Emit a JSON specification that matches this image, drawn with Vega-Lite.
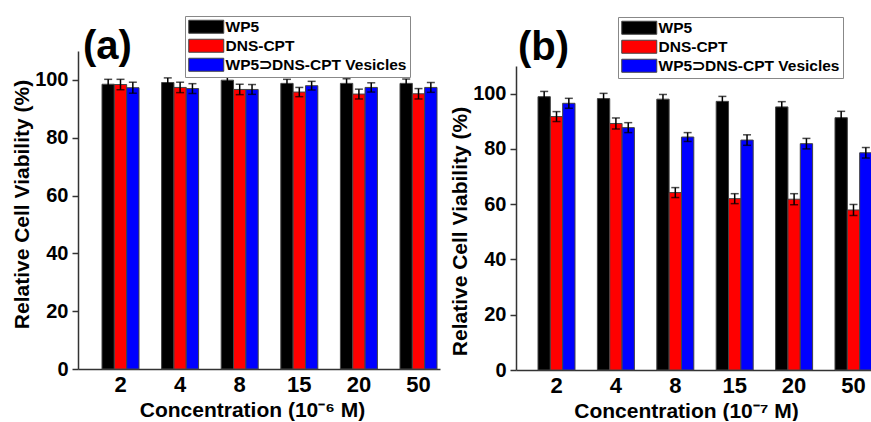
{
  "$schema": "https://vega.github.io/schema/vega-lite/v6.json",
  "padding": {"left": 11, "top": 15, "right": 0, "bottom": 0},
  "spacing": 9,
  "datasets": {
    "cells": [
      {"panel": "a", "conc": "2", "series": "WP5", "value": 98.5, "lo": 96.8, "hi": 100.2},
      {"panel": "a", "conc": "2", "series": "DNS-CPT", "value": 98.4, "lo": 96.6, "hi": 100.2},
      {"panel": "a", "conc": "2", "series": "WP5⊃DNS-CPT Vesicles", "value": 97.3, "lo": 95.4, "hi": 99.2},
      {"panel": "a", "conc": "4", "series": "WP5", "value": 99.1, "lo": 97.5, "hi": 100.7},
      {"panel": "a", "conc": "4", "series": "DNS-CPT", "value": 97.4, "lo": 95.6, "hi": 99.2},
      {"panel": "a", "conc": "4", "series": "WP5⊃DNS-CPT Vesicles", "value": 97.0, "lo": 95.3, "hi": 98.7},
      {"panel": "a", "conc": "8", "series": "WP5", "value": 99.9, "lo": 98.2, "hi": 101.6},
      {"panel": "a", "conc": "8", "series": "DNS-CPT", "value": 96.7, "lo": 94.9, "hi": 98.5},
      {"panel": "a", "conc": "8", "series": "WP5⊃DNS-CPT Vesicles", "value": 96.7, "lo": 95.0, "hi": 98.4},
      {"panel": "a", "conc": "15", "series": "WP5", "value": 98.8, "lo": 97.4, "hi": 100.2},
      {"panel": "a", "conc": "15", "series": "DNS-CPT", "value": 95.8, "lo": 94.2, "hi": 97.4},
      {"panel": "a", "conc": "15", "series": "WP5⊃DNS-CPT Vesicles", "value": 98.0, "lo": 96.5, "hi": 99.5},
      {"panel": "a", "conc": "20", "series": "WP5", "value": 98.8, "lo": 97.2, "hi": 100.4},
      {"panel": "a", "conc": "20", "series": "DNS-CPT", "value": 95.1, "lo": 93.4, "hi": 96.8},
      {"panel": "a", "conc": "20", "series": "WP5⊃DNS-CPT Vesicles", "value": 97.4, "lo": 95.8, "hi": 99.0},
      {"panel": "a", "conc": "50", "series": "WP5", "value": 98.8, "lo": 97.3, "hi": 100.3},
      {"panel": "a", "conc": "50", "series": "DNS-CPT", "value": 95.2, "lo": 93.4, "hi": 97.0},
      {"panel": "a", "conc": "50", "series": "WP5⊃DNS-CPT Vesicles", "value": 97.4, "lo": 95.7, "hi": 99.1},
      {"panel": "b", "conc": "2", "series": "WP5", "value": 98.9, "lo": 97.0, "hi": 100.8},
      {"panel": "b", "conc": "2", "series": "DNS-CPT", "value": 91.7, "lo": 89.9, "hi": 93.5},
      {"panel": "b", "conc": "2", "series": "WP5⊃DNS-CPT Vesicles", "value": 96.5, "lo": 94.7, "hi": 98.3},
      {"panel": "b", "conc": "4", "series": "WP5", "value": 98.2, "lo": 96.3, "hi": 100.1},
      {"panel": "b", "conc": "4", "series": "DNS-CPT", "value": 89.2, "lo": 87.2, "hi": 91.2},
      {"panel": "b", "conc": "4", "series": "WP5⊃DNS-CPT Vesicles", "value": 87.7, "lo": 85.9, "hi": 89.5},
      {"panel": "b", "conc": "8", "series": "WP5", "value": 98.0, "lo": 96.3, "hi": 99.7},
      {"panel": "b", "conc": "8", "series": "DNS-CPT", "value": 64.2, "lo": 62.4, "hi": 66.0},
      {"panel": "b", "conc": "8", "series": "WP5⊃DNS-CPT Vesicles", "value": 84.3, "lo": 82.7, "hi": 85.9},
      {"panel": "b", "conc": "15", "series": "WP5", "value": 97.2, "lo": 95.4, "hi": 99.0},
      {"panel": "b", "conc": "15", "series": "DNS-CPT", "value": 62.0, "lo": 60.2, "hi": 63.8},
      {"panel": "b", "conc": "15", "series": "WP5⊃DNS-CPT Vesicles", "value": 83.2, "lo": 81.3, "hi": 85.1},
      {"panel": "b", "conc": "20", "series": "WP5", "value": 95.2, "lo": 93.3, "hi": 97.1},
      {"panel": "b", "conc": "20", "series": "DNS-CPT", "value": 61.8, "lo": 59.8, "hi": 63.8},
      {"panel": "b", "conc": "20", "series": "WP5⊃DNS-CPT Vesicles", "value": 81.9, "lo": 80.0, "hi": 83.8},
      {"panel": "b", "conc": "50", "series": "WP5", "value": 91.3, "lo": 89.0, "hi": 93.6},
      {"panel": "b", "conc": "50", "series": "DNS-CPT", "value": 57.9, "lo": 55.9, "hi": 59.9},
      {"panel": "b", "conc": "50", "series": "WP5⊃DNS-CPT Vesicles", "value": 78.6, "lo": 76.7, "hi": 80.5}
    ]
  },
  "hconcat": [
    {
      "width": 362,
      "height": 318,
      "title": {"text": "(a)", "dx": 5, "dy": 6},
      "data": {"name": "cells"},
      "transform": [{"filter": "datum.panel === 'a'"}],
      "encoding": {
        "x": {
          "field": "conc", "type": "nominal",
          "sort": ["2", "4", "8", "15", "20", "50"],
          "scale": {"paddingInner": 0.3792, "paddingOuter": 0.2265, "align": 0.889},
          "axis": {"title": "Concentration (10⁻⁶ M)", "labelAngle": 0, "ticks": false, "tickSize": 0, "labelFontSize": 22, "labelPadding": 5, "titlePadding": 4, "titleX": 174}
        },
        "xOffset": {"field": "series", "sort": ["WP5", "DNS-CPT", "WP5⊃DNS-CPT Vesicles"], "scale": {"paddingInner": 0, "paddingOuter": 0}}
      },
      "layer": [
        {
          "mark": {"type": "bar", "stroke": "#444", "strokeWidth": 1},
          "encoding": {
            "y": {
              "field": "value", "type": "quantitative",
              "scale": {"domain": [0, 110], "nice": false},
              "axis": {
                "title": "Relative Cell Viability (%)",
                "values": [0, 10, 20, 30, 40, 50, 60, 70, 80, 90, 100, 110],
                "labelExpr": "datum.value % 20 === 0 && datum.value < 110 ? datum.label : ''",
                "tickSize": {"condition": {"test": "datum.value % 20 === 0", "value": 6}, "value": 3},
                "labelFontSize": 20, "labelPadding": 4, "titlePadding": 2, "titleY": 153
              }
            },
            "fill": {
              "field": "series", "type": "nominal",
              "sort": ["WP5", "DNS-CPT", "WP5⊃DNS-CPT Vesicles"],
              "scale": {"domain": ["WP5", "DNS-CPT", "WP5⊃DNS-CPT Vesicles"], "range": ["#000000", "#ff0000", "#0000ff"]},
              "legend": {"orient": "none", "legendX": 107, "legendY": -35}
            }
          }
        },
        {
          "mark": {"type": "rule", "color": "#000", "strokeWidth": 1.5},
          "encoding": {"y": {"field": "lo", "type": "quantitative"}, "y2": {"field": "hi"}}
        },
        {
          "mark": {"type": "tick", "color": "#000", "thickness": 1.5, "size": 8},
          "encoding": {"y": {"field": "lo", "type": "quantitative"}}
        },
        {
          "mark": {"type": "tick", "color": "#000", "thickness": 1.5, "size": 8},
          "encoding": {"y": {"field": "hi", "type": "quantitative"}}
        }
      ]
    },
    {
      "width": 356,
      "height": 319,
      "title": {"text": "(b)", "dx": 2, "dy": 6},
      "data": {"name": "cells"},
      "transform": [{"filter": "datum.panel === 'b'"}],
      "encoding": {
        "x": {
          "field": "conc", "type": "nominal",
          "sort": ["2", "4", "8", "15", "20", "50"],
          "scale": {"paddingInner": 0.3771, "paddingOuter": 0.1852, "align": 1},
          "axis": {"title": "Concentration (10⁻⁷ M)", "labelAngle": 0, "ticks": false, "tickSize": 0, "labelFontSize": 22, "labelPadding": 5, "titlePadding": 4, "titleX": 170}
        },
        "xOffset": {"field": "series", "sort": ["WP5", "DNS-CPT", "WP5⊃DNS-CPT Vesicles"], "scale": {"paddingInner": 0, "paddingOuter": 0}}
      },
      "layer": [
        {
          "mark": {"type": "bar", "stroke": "#444", "strokeWidth": 1},
          "encoding": {
            "y": {
              "field": "value", "type": "quantitative",
              "scale": {"domain": [0, 110], "nice": false, "range": [319, 15]},
              "axis": {
                "title": "Relative Cell Viability (%)",
                "values": [0, 10, 20, 30, 40, 50, 60, 70, 80, 90, 100, 110],
                "labelExpr": "datum.value % 20 === 0 && datum.value < 110 ? datum.label : ''",
                "tickSize": {"condition": {"test": "datum.value % 20 === 0", "value": 6}, "value": 3},
                "labelFontSize": 20, "labelPadding": 4, "titlePadding": 2, "titleY": 180
              }
            },
            "fill": {
              "field": "series", "type": "nominal",
              "sort": ["WP5", "DNS-CPT", "WP5⊃DNS-CPT Vesicles"],
              "scale": {"domain": ["WP5", "DNS-CPT", "WP5⊃DNS-CPT Vesicles"], "range": ["#000000", "#ff0000", "#0000ff"]},
              "legend": {"orient": "none", "legendX": 102, "legendY": -34}
            }
          }
        },
        {
          "mark": {"type": "rule", "color": "#000", "strokeWidth": 1.5},
          "encoding": {"y": {"field": "lo", "type": "quantitative"}, "y2": {"field": "hi"}}
        },
        {
          "mark": {"type": "tick", "color": "#000", "thickness": 1.5, "size": 8},
          "encoding": {"y": {"field": "lo", "type": "quantitative"}}
        },
        {
          "mark": {"type": "tick", "color": "#000", "thickness": 1.5, "size": 8},
          "encoding": {"y": {"field": "hi", "type": "quantitative"}}
        }
      ]
    }
  ],
  "resolve": {
    "scale": {"x": "independent", "y": "independent", "fill": "independent", "xOffset": "independent"},
    "legend": {"fill": "independent"}
  },
  "config": {
    "view": {"stroke": null},
    "font": "Liberation Sans",
    "axis": {
      "grid": false,
      "domainColor": "#333", "domainWidth": 1.5,
      "tickColor": "#333", "tickWidth": 1.5,
      "labelFont": "Liberation Sans", "labelFontWeight": "bold", "labelColor": "#000",
      "titleFont": "Liberation Sans", "titleFontWeight": "bold", "titleColor": "#000", "titleFontSize": 21
    },
    "legend": {
      "title": null,
      "symbolType": "M-1,-0.93H4V0.93H-1Z",
      "symbolSize": 196,
      "symbolStrokeColor": "#444",
      "symbolStrokeWidth": 1,
      "labelFont": "Liberation Sans", "labelFontWeight": "bold", "labelFontSize": 15.5, "labelColor": "#000",
      "labelOffset": 22, "labelLimit": 0,
      "rowPadding": 1,
      "padding": 3,
      "strokeColor": "#888",
      "fillColor": "#ffffff"
    },
    "title": {
      "fontSize": 40, "fontWeight": "bold", "font": "Liberation Sans", "color": "#000",
      "anchor": "start", "frame": "group", "baseline": "alphabetic", "offset": -45
    }
  }
}
